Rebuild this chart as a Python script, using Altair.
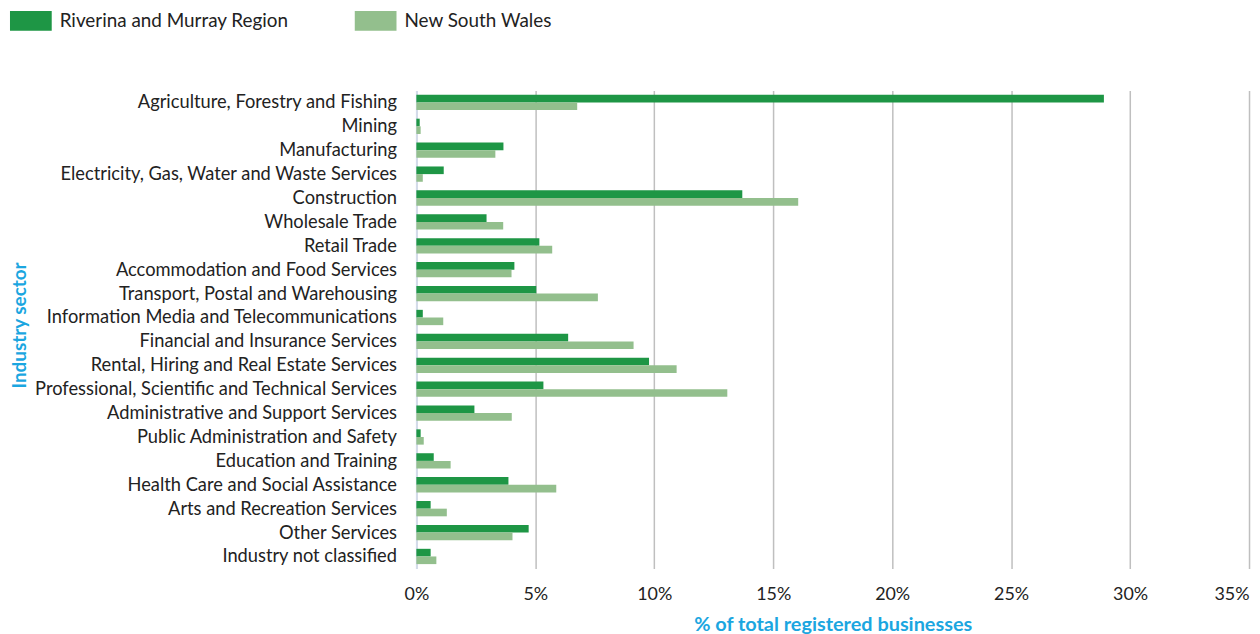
import altair as alt
import pandas as pd

categories = [
    "Agriculture, Forestry and Fishing", "Mining", "Manufacturing",
    "Electricity, Gas, Water and Waste Services", "Construction", "Wholesale Trade",
    "Retail Trade", "Accommodation and Food Services", "Transport, Postal and Warehousing",
    "Information Media and Telecommunications", "Financial and Insurance Services",
    "Rental, Hiring and Real Estate Services", "Professional, Scientific and Technical Services",
    "Administrative and Support Services", "Public Administration and Safety",
    "Education and Training", "Health Care and Social Assistance",
    "Arts and Recreation Services", "Other Services", "Industry not classified",
]
riverina = [28.9, 0.14, 3.66, 1.15, 13.7, 2.95, 5.17, 4.12, 5.04, 0.27,
            6.38, 9.78, 5.34, 2.44, 0.18, 0.73, 3.87, 0.6, 4.72, 0.6]
nsw = [6.76, 0.18, 3.32, 0.27, 16.05, 3.65, 5.71, 4.0, 7.63, 1.13,
       9.13, 10.94, 13.07, 4.01, 0.31, 1.44, 5.88, 1.28, 4.04, 0.84]
series = ["Riverina and Murray Region", "New South Wales"]
colors = ["#1E9645", "#93BF8D"]

rows = []
for c, r, n in zip(categories, riverina, nsw):
    rows.append({"sector": c, "series": series[0], "value": r})
    rows.append({"sector": c, "series": series[1], "value": n})
df = pd.DataFrame(rows)

W, H = 838, 481
font = "Lato"
cyan = "#1BA6E0"

chart = alt.Chart(df).mark_bar().encode(
    y=alt.Y("sector:N", sort=categories,
            scale=alt.Scale(paddingInner=0.36, paddingOuter=0.18),
            axis=alt.Axis(title="Industry sector", labelFontSize=18.4, labelColor="#222222",
                          labelFont=font, labelPadding=20, ticks=False, domain=True,
                          domainColor="#D3DBEA", domainWidth=2, labelLimit=420,
                          titleFont=font, titleFontSize=19, titleFontWeight="bold",
                          titleColor=cyan, titleX=-399, titleY=236, titleAngle=-90,
                          titleAlign="center", titleBaseline="middle")),
    yOffset=alt.YOffset("series:N", sort=series),
    x=alt.X("value:Q", scale=alt.Scale(domain=[0, 35], nice=False),
            axis=alt.Axis(title="% of total registered businesses", values=[0, 5, 10, 15, 20, 25, 30, 35],
                          labelExpr="datum.value + '%'", labelFontSize=18, labelColor="#222222",
                          labelFont=font, labelPadding=17, ticks=False, domain=False,
                          grid=True, gridColor="#BFBFBF", gridWidth=1.5,
                          labelAlign=alt.ExprRef("datum.value >= 35 ? 'right' : 'center'"),
                          titleFont=font, titleFontSize=20, titleFontWeight="bold",
                          titleColor=cyan, titlePadding=11)),
    color=alt.Color("series:N", sort=series,
                    scale=alt.Scale(domain=series, range=colors),
                    legend=alt.Legend(title=None, orient="none", legendX=-409, legendY=-91,
                                      direction="horizontal", columns=2, columnPadding=66,
                                      symbolType="M-1,-0.476H1V0.476H-1Z", symbolSize=1764,
                                      symbolStrokeWidth=0, symbolOpacity=1,
                                      labelFont=font, labelFontSize=19, labelColor="#222222",
                                      labelOffset=8, labelLimit=400)),
).properties(
    width=W, height=H,
    autosize=alt.AutoSizeParams(type="none"),
    padding={"left": 411, "top": 81, "right": 3, "bottom": 64},
).configure_view(stroke=None)

chart.save("out.html", embed_options={"renderer": "svg", "actions": False})
